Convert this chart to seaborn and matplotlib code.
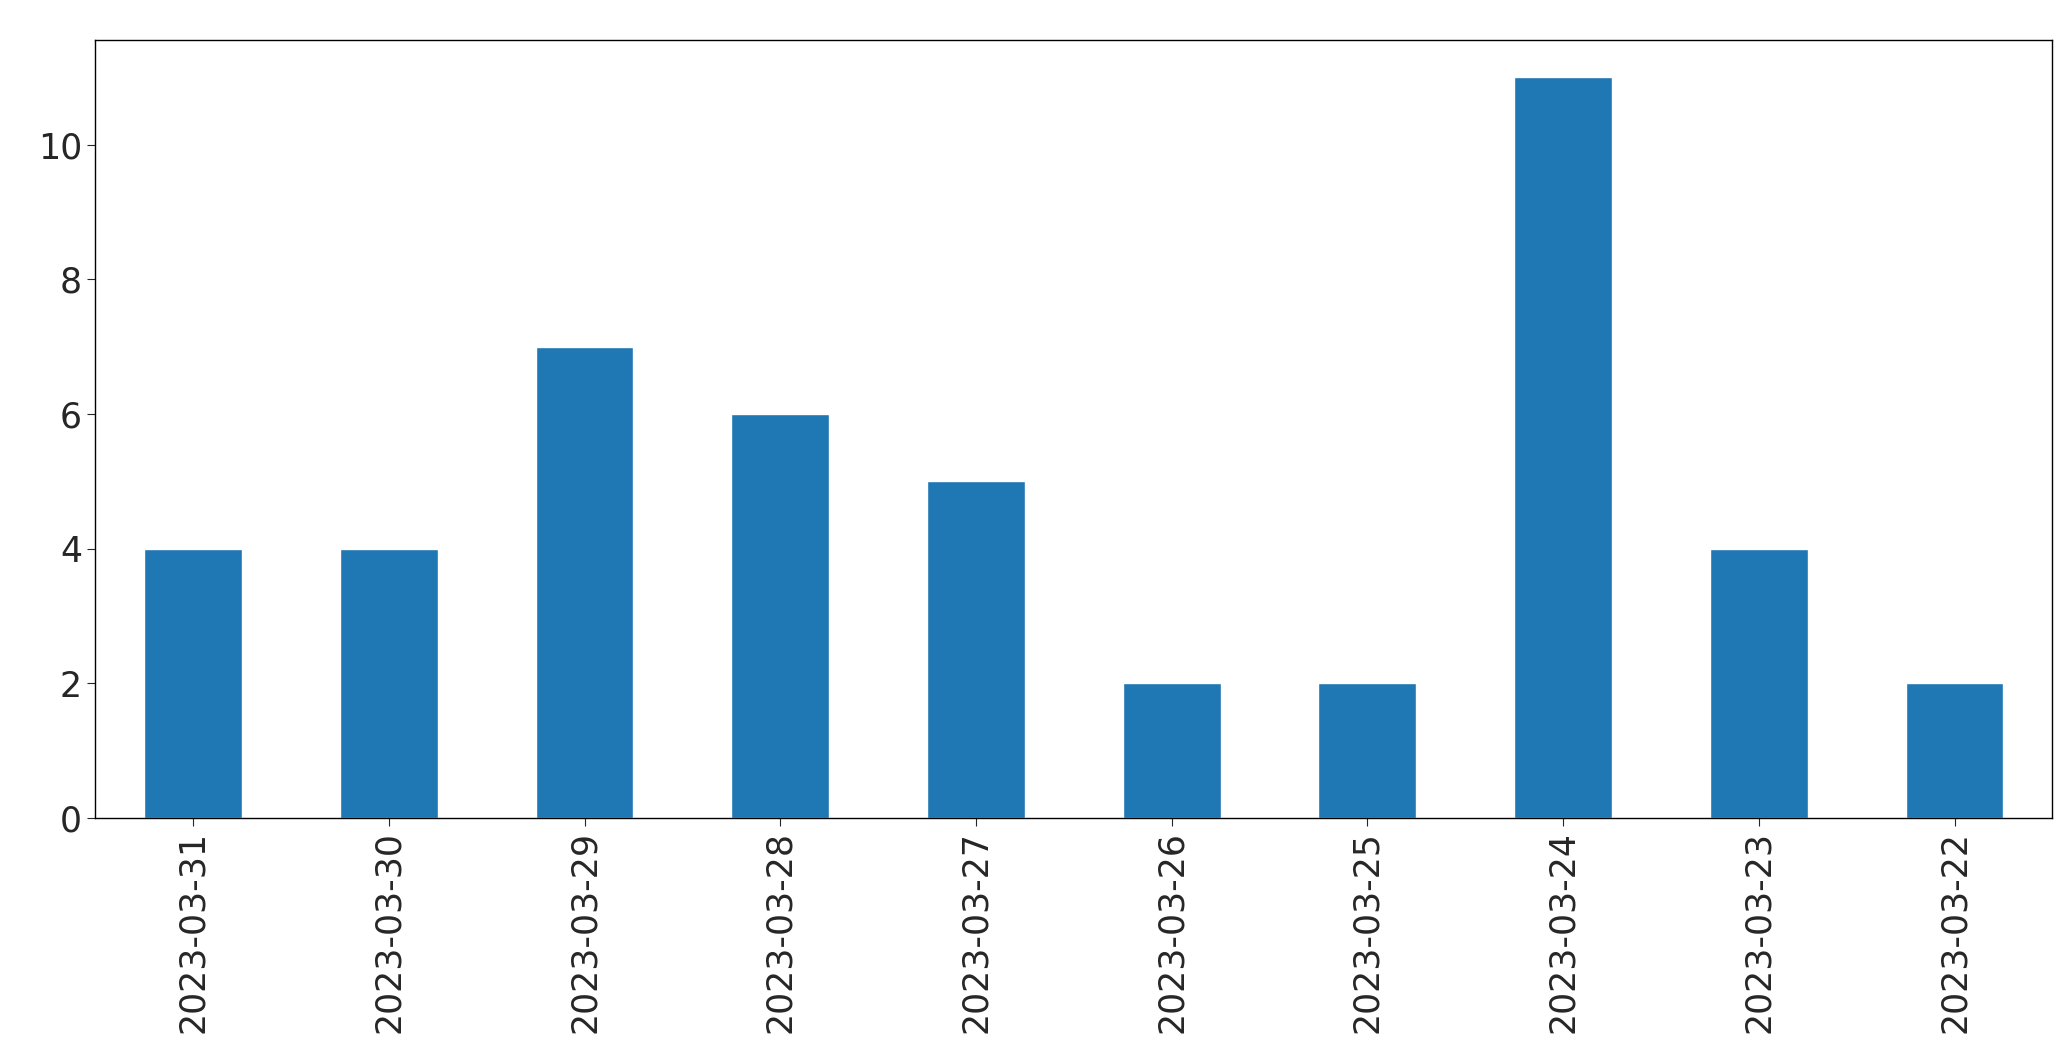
import matplotlib
matplotlib.use("Agg")
import matplotlib.pyplot as plt
import seaborn as sns
import pandas as pd

dates = ["2023-03-31","2023-03-30","2023-03-29","2023-03-28","2023-03-27",
         "2023-03-26","2023-03-25","2023-03-24","2023-03-23","2023-03-22"]
counts = [4,4,7,6,5,2,2,11,4,2]

sns.set_style("ticks")
plt.rcParams['font.family'] = ['DejaVu Sans']
df = pd.DataFrame({"date": dates, "count": counts})
fig = plt.figure(figsize=(20.71,10.61), dpi=100)
ax = fig.add_axes([0.046,0.229,0.945,0.733])
sns.barplot(data=df, x="date", y="count", order=dates, color="#1f77b4", saturation=1, width=0.5, ax=ax)
ax.set_xlabel(""); ax.set_ylabel("")
ax.set_ylim(0, 11.55)
ax.set_xlim(-0.5, len(dates)-0.5)
ax.tick_params(axis='both', labelsize=25, length=6)
plt.setp(ax.get_xticklabels(), rotation=90)
for s in ax.spines.values():
    s.set_visible(True); s.set_color('black'); s.set_linewidth(1)
fig.savefig("out.png", dpi=100)
